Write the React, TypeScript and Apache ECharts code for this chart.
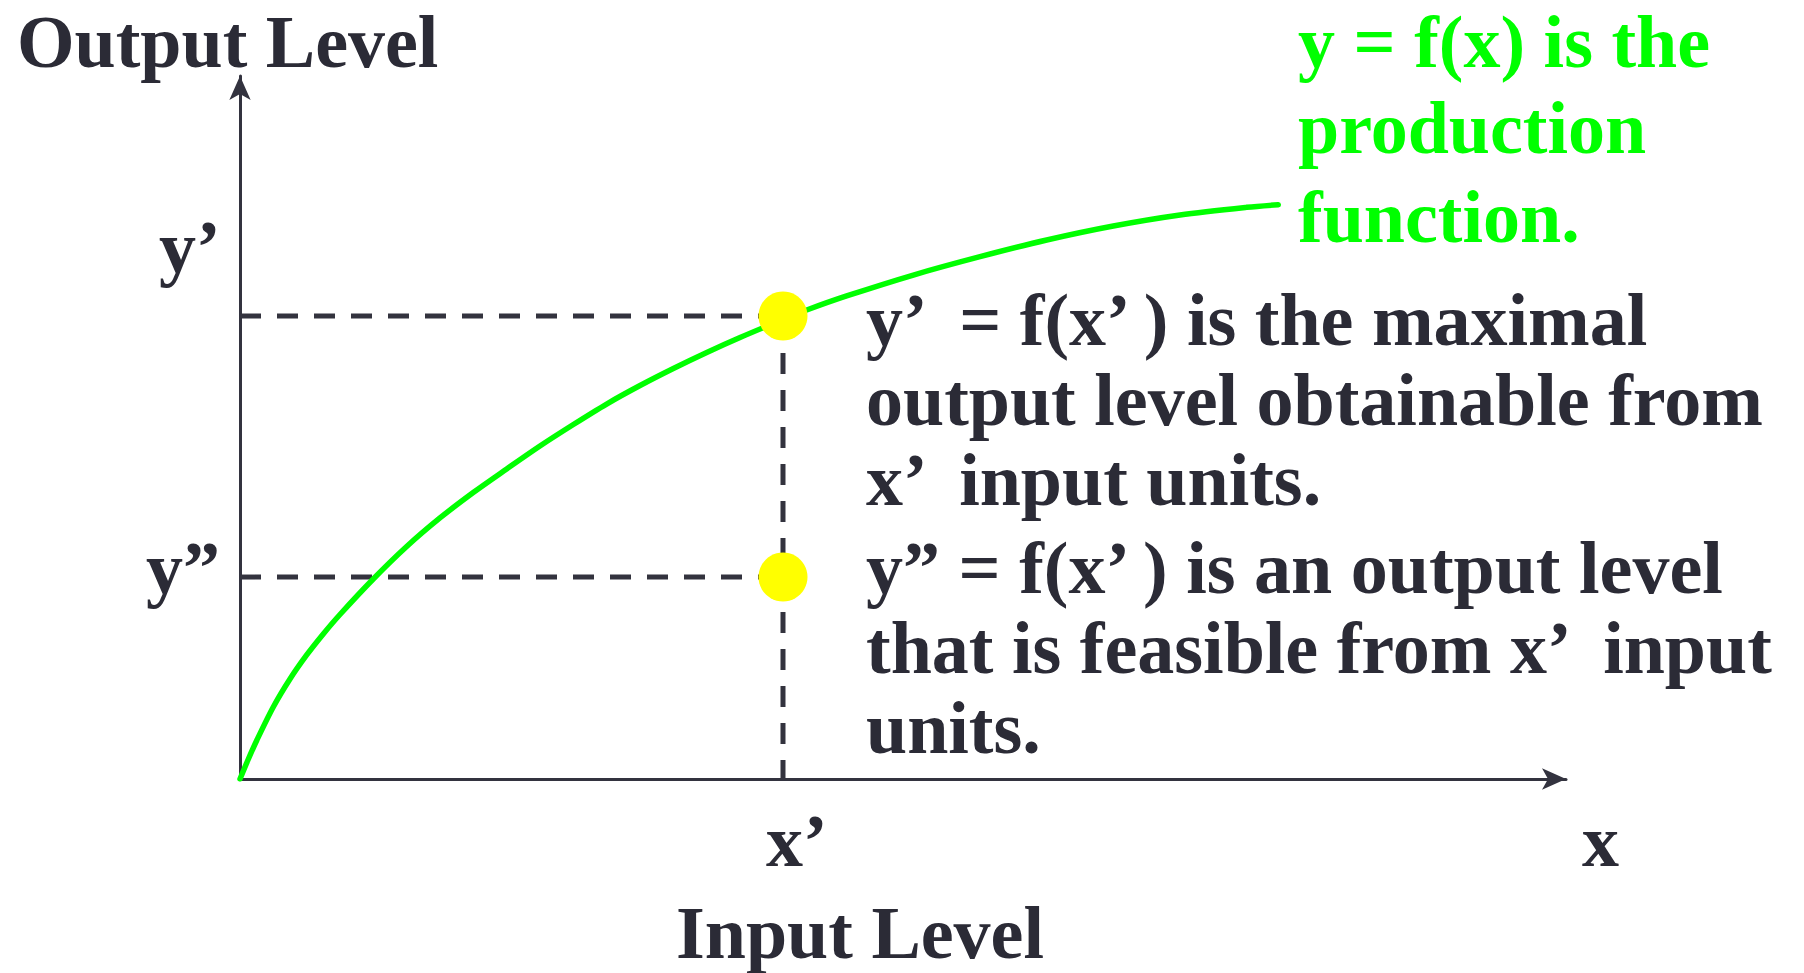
import React, { useEffect, useRef } from "react";
import * as echarts from "echarts";

// Production function curve, axis units 0..100
const curveX = [0, 0.6, 1.26, 2.51, 3.77, 5.03, 6.28, 7.54, 10.05, 12.57, 15.08, 17.59, 20.11, 22.62, 25.14, 27.65, 30.17, 32.68, 35.2, 37.71, 40.95, 42.74, 45.75, 50.78, 55.81, 60.84, 65.86, 70.89, 75.92, 78.3];
const curveY = [0, 2.7, 5.48, 10.24, 14.22, 17.64, 20.63, 23.4, 28.45, 33.07, 37.13, 40.75, 44.1, 47.37, 50.43, 53.34, 55.97, 58.39, 60.67, 62.8, 65.36, 66.71, 68.71, 71.69, 74.3, 76.67, 78.66, 80.23, 81.32, 81.69];

// Marked input / output levels
const xPrime = 40.95;
const yPrime = 65.86;
const yDoublePrime = 28.73;

// Tick labels and axis names
const yTickLabels = ["y’", "y”"];
const xTickLabels = ["x’", "x"];
const axisNames = ["Output Level", "Input Level"];

// Annotation texts
const greenNote = ["y = f(x) is the", "production", "function."];
const blackNote = [
  "y’  = f(x’ ) is the maximal",
  "output level obtainable from",
  "x’  input units.",
  "y” = f(x’ ) is an output level",
  "that is feasible from x’  input",
  "units.",
];

const FONT = "'Liberation Serif', 'Times New Roman', serif";
const DARK = "#2b2b36";
const FS = 74;
const MID = 25; // alphabetic baseline sits this far below the 'middle' anchor

function txt(text: string, x: number, baseline: number, fill: string, align: string = "left") {
  return {
    type: "text",
    x,
    y: baseline - MID,
    silent: true,
    style: {
      text,
      fill,
      fontSize: FS,
      fontWeight: "bold",
      fontFamily: FONT,
      lineHeight: 60,
      align,
      verticalAlign: "middle",
    },
  };
}

export default function App() {
  const ref = useRef<HTMLDivElement>(null);

  useEffect(() => {
    if (!ref.current) return;
    const chart = echarts.init(ref.current, undefined, { renderer: "svg" });
    const curve = curveX.map((x, i) => [x, curveY[i]]);
    const dash = () => ({ color: "#33333e", width: 5, type: [21, 16], cap: "butt", opacity: 1 });

    const graphics: any[] = [
      txt(axisNames[0], 17, 67, DARK),
      txt(axisNames[1], 676, 958, DARK),
      txt(yTickLabels[0], 159, 272, DARK),
      txt(yTickLabels[1], 146, 593, DARK),
      txt(xTickLabels[0], 766, 866, DARK),
      txt(xTickLabels[1], 1582, 866, DARK),
    ];
    const greenBase = [67, 153, 241.5];
    greenNote.forEach((t, i) => graphics.push(txt(t, 1298, greenBase[i], "#00ff00")));
    const blackBase = [345, 425, 505, 593, 673, 753];
    blackNote.forEach((t, i) => graphics.push(txt(t, 866, blackBase[i], DARK)));

    const axisCommon = {
      type: "value",
      min: 0,
      max: 100,
      axisLine: {
        show: true,
        onZero: false,
        symbol: ["none", "arrow"],
        symbolSize: [16, 24],
        lineStyle: { color: "#33333f", width: 3 },
      },
      axisTick: { show: false },
      axisLabel: { show: false },
      splitLine: { show: false },
    };

    chart.setOption({
      animation: false,
      backgroundColor: "#ffffff",
      grid: { left: 240, top: 76, width: 1326, height: 703, containLabel: false },
      xAxis: axisCommon,
      yAxis: { ...axisCommon, axisLine: { ...axisCommon.axisLine } },
      series: [
        {
          type: "line",
          data: [[0, yPrime], [xPrime, yPrime]],
          showSymbol: false,
          lineStyle: dash(),
          emphasis: { disabled: true },
          z: 2,
        },
        {
          type: "line",
          data: [[0, yDoublePrime], [xPrime, yDoublePrime]],
          showSymbol: false,
          lineStyle: dash(),
          emphasis: { disabled: true },
          z: 2,
        },
        {
          type: "line",
          data: [[xPrime, yPrime], [xPrime, 0]],
          showSymbol: false,
          lineStyle: dash(),
          emphasis: { disabled: true },
          z: 2,
        },
        {
          type: "line",
          data: curve,
          showSymbol: false,
          smooth: 0.3,
          lineStyle: { color: "#00ff00", width: 5.5, cap: "round", opacity: 1 },
          emphasis: { disabled: true },
          z: 3,
        },
        {
          type: "scatter",
          data: [[xPrime, yPrime], [xPrime, yDoublePrime]],
          symbolSize: 49,
          itemStyle: { color: "#ffff00", opacity: 1 },
          emphasis: { disabled: true },
          z: 4,
        },
      ],
      graphic: graphics,
    });
    return () => chart.dispose();
  }, []);

  return (
    <div
      ref={ref}
      style={{ position: "absolute", left: 0, top: 0, width: "1804px", height: "973px", background: "#fff" }}
    />
  );
}
